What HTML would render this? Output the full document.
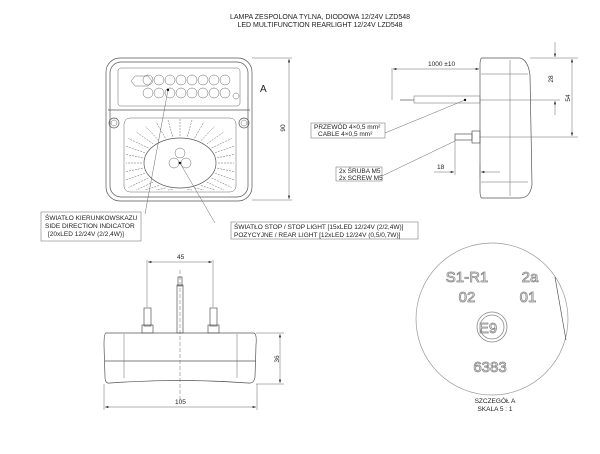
<!DOCTYPE html>
<html><head><meta charset="utf-8"><style>
html,body{margin:0;padding:0;background:#fff;}
svg{display:block;font-family:"Liberation Sans",sans-serif;}
.t{font-size:6.5px;fill:#222;}
.l{stroke:#555;fill:none;stroke-width:0.7;}
.d{stroke:#666;fill:none;stroke-width:0.5;}
</style></head><body>
<svg id="s" width="600" height="454" viewBox="0 0 600 454" xmlns="http://www.w3.org/2000/svg">
<defs><marker id="a" viewBox="0 0 10 6" refX="10" refY="3" markerWidth="8" markerHeight="4" orient="auto-start-reverse"><path d="M0,0L10,3L0,6z" fill="#111"/></marker></defs>
<text x="320" y="19" text-anchor="middle" class="t" style="font-size:7px">LAMPA ZESPOLONA TYLNA, DIODOWA 12/24V LZD548</text>
<text x="320" y="27" text-anchor="middle" class="t" style="font-size:7px">LED MULTIFUNCTION REARLIGHT 12/24V LZD548</text>

<!-- front view -->
<rect x="106" y="58" width="146" height="143" rx="14" class="l" stroke-width="1"/>
<rect x="110" y="62" width="138" height="135" rx="11" class="l"/>
<rect x="118" y="68" width="122" height="38" rx="3" class="d"/>
<line x1="108" y1="110" x2="250" y2="110" class="l"/>
<g id="leds" class="d"></g>
<path d="M135,76 L148,76 L152,81 L148,86 L135,86 L131,81z" class="d"/>
<circle cx="114" cy="123" r="5" class="l"/><circle cx="114" cy="123" r="3" class="d"/>
<circle cx="244" cy="123" r="5" class="l"/><circle cx="244" cy="123" r="3" class="d"/>
<rect x="124" y="118" width="112" height="74" rx="6" class="d"/>
<g id="rays" class="d" stroke-dasharray="2,1"></g>
<ellipse cx="180" cy="163" rx="36" ry="25" class="l"/>
<circle cx="180" cy="153" r="5" class="d"/><circle cx="174" cy="163" r="5" class="d"/><circle cx="186" cy="163" r="5" class="d"/>
<circle cx="180" cy="163" r="1.2" fill="#000"/><circle cx="168" cy="90" r="1.2" fill="#000"/>
<circle cx="236" cy="96" r="3" class="d"/>
<text x="260" y="92" style="font-size:10px" fill="#222">A</text>
<line x1="252" y1="58" x2="292" y2="58" class="d"/><line x1="252" y1="200" x2="292" y2="200" class="d"/>
<line x1="289" y1="59" x2="289" y2="199" class="d" marker-start="url(#a)" marker-end="url(#a)"/>
<text x="285" y="128" class="t" transform="rotate(-90 285 128)" text-anchor="middle">90</text>

<!-- leaders -->
<line x1="168" y1="90" x2="145" y2="214" class="d"/>
<line x1="180" y1="163" x2="215" y2="223" class="d"/>
<rect x="41" y="212" width="100" height="29" class="d"/>
<text x="45" y="220" class="t">ŚWIATŁO KIERUNKOWSKAZU</text>
<text x="45" y="228" class="t">SIDE DIRECTION INDICATOR</text>
<text x="48" y="236" class="t">[20xLED 12/24V (2/2,4W)]</text>
<rect x="231" y="222" width="187" height="17" class="d"/>
<text x="234" y="229" class="t">ŚWIATŁO STOP / STOP LIGHT [15xLED 12/24V (2/2,4W)]</text>
<text x="234" y="237" class="t">POZYCYJNE / REAR LIGHT [12xLED 12/24V (0,5/0,7W)]</text>

<!-- side view -->
<path d="M482,58 L520,58 Q528,60 530,75 L532,185 Q530,198 520,198 L482,198 Q480,198 480,190 L480,66 Q480,58 482,58z" class="l" stroke-width="1"/>
<line x1="510" y1="60" x2="510" y2="196" class="d"/>
<line x1="481" y1="74" x2="528" y2="74" class="d"/>
<line x1="481" y1="182" x2="528" y2="182" class="d"/>
<rect x="414" y="96" width="66" height="7" class="d"/>
<line x1="400" y1="100" x2="414" y2="100" class="l"/>
<circle cx="465" cy="100" r="1.2" fill="#000"/>
<line x1="392" y1="68" x2="392" y2="100" class="d"/>
<line x1="393" y1="69" x2="479" y2="69" class="d" marker-start="url(#a)" marker-end="url(#a)"/>
<text x="428" y="66" class="t">1000 ±10</text>
<rect x="455" y="134" width="17" height="6" class="l"/>
<rect x="472" y="131" width="8" height="12" class="l"/>
<line x1="455" y1="140" x2="455" y2="175" class="d"/>
<line x1="434" y1="172" x2="454" y2="172" class="d" marker-end="url(#a)"/>
<line x1="500" y1="172" x2="481" y2="172" class="d" marker-end="url(#a)"/>
<line x1="480" y1="165" x2="480" y2="178" class="d"/>
<text x="437" y="169" class="t">18</text>
<line x1="530" y1="58" x2="578" y2="58" class="d"/>
<line x1="480" y1="100" x2="560" y2="100" class="d"/>
<line x1="480" y1="137" x2="578" y2="137" class="d"/>
<line x1="555" y1="42" x2="555" y2="57" class="d" marker-end="url(#a)"/>
<line x1="555" y1="115" x2="555" y2="101" class="d" marker-end="url(#a)"/>
<line x1="572" y1="59" x2="572" y2="136" class="d" marker-start="url(#a)" marker-end="url(#a)"/>
<text x="553" y="79" class="t" transform="rotate(-90 553 79)" text-anchor="middle">28</text>
<text x="570" y="98" class="t" transform="rotate(-90 570 98)" text-anchor="middle">54</text>
<line x1="465" y1="100" x2="385" y2="133" class="d"/>
<rect x="311" y="123" width="74" height="15" class="d"/>
<text x="314" y="129" class="t">PRZEWÓD 4×0,5 mm²</text>
<text x="318" y="136" class="t">CABLE 4×0,5 mm²</text>
<line x1="455" y1="141" x2="382" y2="176" class="d"/>
<rect x="336" y="167" width="46" height="14" class="d"/>
<text x="339" y="173" class="t">2x ŚRUBA M5</text>
<text x="339" y="180" class="t">2x SCREW M5</text>

<!-- bottom view -->
<path d="M106,333 L254,333 Q257,334 256,345 L255,377 Q254,384 248,383 Q180,378 110,383 Q105,384 105,377 L104,345 Q104,333 106,333z" class="l" stroke-width="1"/>
<line x1="105" y1="361" x2="256" y2="361" class="l"/>
<line x1="124" y1="334" x2="124" y2="378" class="d"/><line x1="237" y1="334" x2="237" y2="378" class="d"/>
<rect x="144" y="308" width="7" height="18" class="l"/><rect x="142" y="325" width="11" height="8" class="l"/>
<rect x="210" y="308" width="7" height="18" class="l"/><rect x="208" y="325" width="11" height="8" class="l"/>
<rect x="177" y="285" width="6" height="48" class="l"/><rect x="178" y="277" width="4" height="9" class="l"/>
<line x1="180" y1="270" x2="180" y2="400" class="d" stroke-dasharray="4,2"/>
<line x1="147" y1="260" x2="147" y2="307" class="d"/><line x1="213" y1="260" x2="213" y2="307" class="d"/>
<line x1="148" y1="262" x2="212" y2="262" class="d" marker-start="url(#a)" marker-end="url(#a)"/>
<text x="177" y="259" class="t">45</text>
<line x1="256" y1="333" x2="284" y2="333" class="d"/><line x1="256" y1="384" x2="284" y2="384" class="d"/>
<line x1="280" y1="334" x2="280" y2="383" class="d" marker-start="url(#a)" marker-end="url(#a)"/>
<text x="279" y="359" class="t" transform="rotate(-90 279 359)" text-anchor="middle">36</text>
<line x1="104" y1="384" x2="104" y2="410" class="d"/><line x1="257" y1="384" x2="257" y2="410" class="d"/>
<line x1="105" y1="407" x2="256" y2="407" class="d" marker-start="url(#a)" marker-end="url(#a)"/>
<text x="175" y="404" class="t">105</text>

<!-- detail A -->
<circle cx="492" cy="319" r="76" fill="none" stroke="#999" stroke-width="0.7"/>
<line x1="555" y1="277" x2="566" y2="340" stroke="#555" stroke-width="0.7"/>
<g style="font-size:15px" fill="#fff" stroke="#888" stroke-width="0.8" text-anchor="middle">
<text x="467" y="282">S1-R1</text><text x="530" y="282">2a</text>
<text x="467" y="302">02</text><text x="528" y="302">01</text>
<text x="490" y="372">6383</text>
<text x="488" y="333">E9</text>
</g>
<circle cx="492" cy="327" r="15" fill="none" stroke="#888" stroke-width="0.8"/>
<circle cx="492" cy="327" r="12" fill="none" stroke="#888" stroke-width="0.8"/>
<text x="495" y="403" class="t" text-anchor="middle">SZCZEGÓŁ A</text>
<text x="495" y="411" class="t" text-anchor="middle">SKALA 5 : 1</text>
</svg>
<script>
var ns="http://www.w3.org/2000/svg";
var g=document.getElementById("leds");
for(var r=0;r<2;r++)for(var i=0;i<8;i++){var c=document.createElementNS(ns,"circle");c.setAttribute("cx",148+i*11);c.setAttribute("cy",80+r*13);c.setAttribute("r",5);g.appendChild(c);}
var rg=document.getElementById("rays");
for(var k=0;k<32;k++){var a=k/32*2*Math.PI;var x1=180+38*Math.cos(a),y1=163+27*Math.sin(a);var x2=180+62*Math.cos(a),y2=163+44*Math.sin(a);
x2=Math.max(126,Math.min(234,x2));y2=Math.max(116,Math.min(190,y2));
var l=document.createElementNS(ns,"line");l.setAttribute("x1",x1);l.setAttribute("y1",y1);l.setAttribute("x2",x2);l.setAttribute("y2",y2);rg.appendChild(l);}
</script>
</body></html>
